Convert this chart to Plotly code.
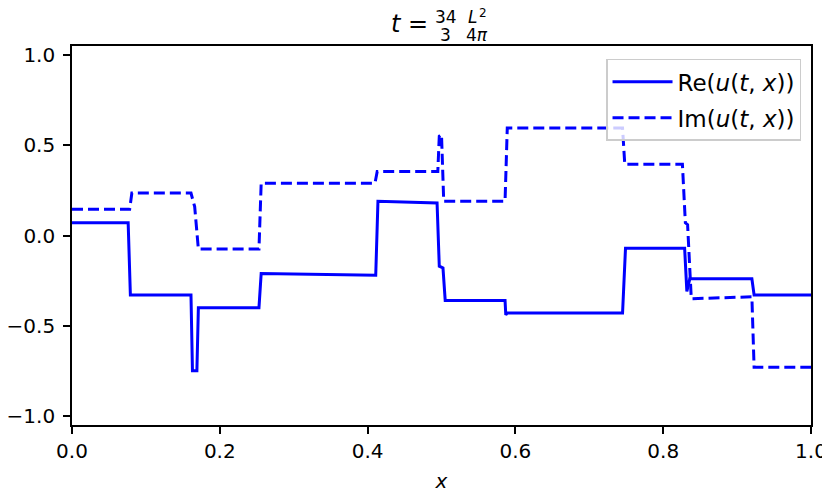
import plotly.graph_objects as go

# step profile of the solution, corners
re_x = [0.0, 0.076, 0.079, 0.161, 0.163, 0.169, 0.171, 0.253, 0.256, 0.411,
        0.414, 0.494, 0.497, 0.502, 0.505, 0.586, 0.587, 0.589, 0.745, 0.749,
        0.829, 0.832, 0.836, 0.920, 0.923, 1.0]
re_y = [0.07, 0.07, -0.33, -0.33, -0.75, -0.75, -0.40, -0.40, -0.21, -0.22,
        0.19, 0.18, -0.17, -0.18, -0.36, -0.36, -0.44, -0.43, -0.43, -0.07,
        -0.07, -0.31, -0.24, -0.24, -0.33, -0.33]

im_x = [0.0, 0.078, 0.081, 0.161, 0.166, 0.171, 0.253, 0.256, 0.410, 0.413,
        0.495, 0.497, 0.500, 0.503, 0.586, 0.589, 0.745, 0.748, 0.826, 0.830,
        0.833, 0.838, 0.920, 0.923, 1.0]
im_y = [0.145, 0.145, 0.235, 0.235, 0.16, -0.075, -0.075, 0.29, 0.29, 0.355,
        0.355, 0.55, 0.56, 0.19, 0.19, 0.595, 0.595, 0.395, 0.395, 0.07,
        0.06, -0.35, -0.34, -0.73, -0.73]

x_ticks = [0.0, 0.2, 0.4, 0.6, 0.8, 1.0]
y_ticks = [-1.0, -0.5, 0.0, 0.5, 1.0]

FONT = "DejaVu Sans"
BLUE = "#0000ff"

fig = go.Figure()
fig.add_trace(go.Scatter(x=re_x, y=re_y, mode="lines", legendgroup="re",
                         name="Re(<i>u</i>(<i>t</i>, <i>x</i>))",
                         line=dict(color=BLUE, width=3)))
fig.add_trace(go.Scatter(x=im_x, y=im_y, mode="lines", legendgroup="im",
                         name="Im(<i>u</i>(<i>t</i>, <i>x</i>))",
                         line=dict(color=BLUE, width=3, dash="11px,5px")))

axis_style = dict(showline=True, mirror=True, linecolor="black", linewidth=1.6,
                  ticks="outside", ticklen=7, tickwidth=1.6, tickcolor="black",
                  showgrid=False, zeroline=False, tickformat=".1f", automargin=False,
                  tickfont=dict(family=FONT, size=20, color="black"))

fig.update_xaxes(range=[0, 1], tickvals=x_ticks,
                 title=dict(text="<i>x</i>", font=dict(family=FONT, size=20, color="black"),
                            standoff=12),
                 **axis_style)
fig.update_yaxes(range=[-1.05, 1.05], tickvals=y_ticks, ticklabelstandoff=4, **axis_style)

# title t = 34/3 * L^2/(4 pi), built from pieces since there is no MathJax offline
title_parts = [
    # text, x, y, size, xanchor
    ("<i>t</i> =", 0.483, 1.058, 24, "right"),
    ("34", 0.506, 1.077, 17, "center"),
    ("3", 0.506, 1.029, 17, "center"),
    ("<i>L</i>", 0.542, 1.077, 17, "center"),
    ("2", 0.5555, 1.087, 12, "center"),
    ("4<i>π</i>", 0.548, 1.029, 17, "center"),
]
for text, px, py, size, anchor in title_parts:
    fig.add_annotation(x=px, y=py, xref="paper", yref="paper",
                       xanchor=anchor, yanchor="middle", text=text, showarrow=False,
                       borderpad=0, font=dict(family=FONT, size=size, color="black"))

# the page puts the graph 8px in from the top-left corner, margins allow for that
fig.update_layout(
    width=830, height=498,
    margin=dict(l=64, r=27, t=38, b=81),
    paper_bgcolor="white", plot_bgcolor="white",
    font=dict(family=FONT, size=20, color="black"),
    legend=dict(x=0.9865, y=0.966, xanchor="right", yanchor="top",
                bgcolor="rgba(255,255,255,0.8)", bordercolor="#cccccc", borderwidth=1.5,
                itemwidth=60, tracegroupgap=3,
                font=dict(family=FONT, size=23, color="black")),
    showlegend=True,
)

fig.write_html("out.html")
